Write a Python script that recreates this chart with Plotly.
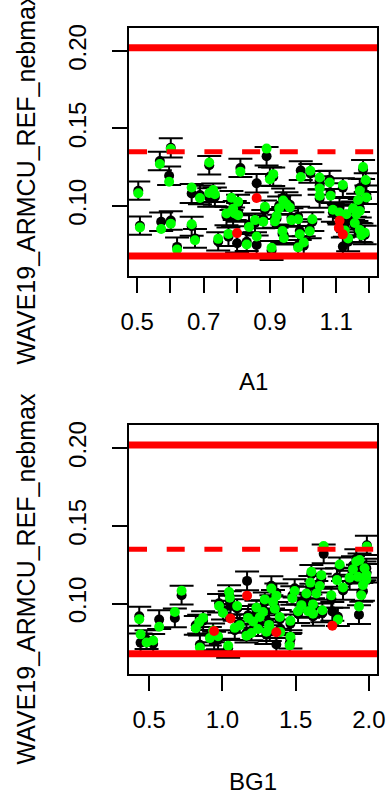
import plotly.graph_objects as go

# ---- data: leave-one-out check of WAVE19_ARMCU_REF_nebmax ----
# runs inside the prediction interval (green)
A1_in = [0.620, 0.905, 0.985, 0.830, 1.002, 0.674, 0.744, 1.136, 0.942, 0.860,
         1.176, 0.775, 0.990, 1.186, 1.020, 0.938, 1.126, 1.171, 0.572, 0.508,
         0.837, 0.664, 0.601, 1.156, 0.880, 0.915, 0.855, 0.965, 0.985, 1.028,
         0.920, 0.804, 1.131, 1.161, 0.769, 0.794, 1.110, 1.171, 1.090, 0.789,
         0.928, 1.151, 0.960, 0.885, 0.950, 0.804, 0.940, 1.166, 0.689, 0.784,
         1.191, 1.050, 1.083, 0.734, 0.503, 0.717, 1.171, 0.729, 1.050, 0.664,
         1.120, 1.080, 0.596, 1.189, 0.900, 1.050, 0.993, 0.910, 0.811, 1.022,
         1.181, 0.568, 0.717, 0.601, 0.890]
BG1_in = [0.846, 1.039, 1.459, 0.482, 0.527, 0.914, 1.464, 0.970, 1.164, 0.441,
          1.198, 1.300, 1.395, 0.936, 1.243, 1.323, 0.818, 1.084, 0.568, 1.118,
          1.318, 0.841, 1.209, 1.464, 1.788, 0.432, 0.868, 1.175, 1.255, 1.391,
          1.618, 1.004, 0.675, 1.277, 1.516, 1.584, 1.682, 1.357, 1.232, 1.932,
          0.977, 1.100, 1.539, 1.618, 1.345, 1.289, 1.477, 1.050, 1.368, 1.743,
          1.948, 1.573, 1.641, 1.045, 1.493, 0.721, 1.334, 1.823, 1.664, 1.959,
          1.600, 1.782, 1.982, 1.868, 1.925, 1.675, 1.982, 1.607, 1.891, 1.970,
          1.800, 1.914, 1.936, 1.986, 1.691]
obs_in = [0.0718, 0.0729, 0.0731, 0.0750, 0.0763, 0.0778, 0.0787, 0.0790, 0.0793, 0.0802,
          0.0811, 0.0819, 0.0817, 0.0827, 0.0836, 0.0838, 0.0841, 0.0844, 0.0851, 0.0860,
          0.0863, 0.0881, 0.0885, 0.0889, 0.0897, 0.0900, 0.0908, 0.0908, 0.0914, 0.0914,
          0.0935, 0.0940, 0.0946, 0.0946, 0.0951, 0.0951, 0.0957, 0.0967, 0.0975, 0.0982,
          0.0984, 0.0984, 0.0990, 0.0994, 0.1011, 0.1027, 0.1035, 0.1038, 0.1051, 0.1053,
          0.1054, 0.1065, 0.1065, 0.1075, 0.1081, 0.1083, 0.1097, 0.1103, 0.1113, 0.1119,
          0.1135, 0.1151, 0.1156, 0.1167, 0.1172, 0.1183, 0.1186, 0.1205, 0.1221, 0.1227,
          0.1251, 0.1271, 0.1280, 0.1367, 0.1370]
pred_in = [0.0735, 0.0712, 0.0745, 0.0768, 0.0742, 0.0790, 0.0770, 0.0768, 0.0810, 0.0748,
           0.0825, 0.0800, 0.0838, 0.0812, 0.0852, 0.0820, 0.0860, 0.0828, 0.0897, 0.0872,
           0.0880, 0.0868, 0.0905, 0.0870, 0.0915, 0.0918, 0.0890, 0.0925, 0.0932, 0.0898,
           0.0918, 0.0958, 0.0908, 0.0962, 0.0935, 0.0970, 0.0940, 0.0985, 0.0958, 0.0929,
           0.1002, 0.0968, 0.1008, 0.0975, 0.1028, 0.1010, 0.1052, 0.1020, 0.1070, 0.1035,
           0.1072, 0.1048, 0.1085, 0.1058, 0.1098, 0.1054, 0.1115, 0.1085, 0.1132, 0.1080,
           0.1118, 0.1168, 0.1195, 0.1150, 0.1190, 0.1165, 0.1228, 0.1188, 0.1245, 0.1210,
           0.1235, 0.1290, 0.1262, 0.1375, 0.1320]
err_in = [0.0060, 0.0061, 0.0059, 0.0060, 0.0062, 0.0060, 0.0059, 0.0061, 0.0060, 0.0060,
          0.0061, 0.0060, 0.0059, 0.0060, 0.0061, 0.0060, 0.0060, 0.0062, 0.0060, 0.0059,
          0.0060, 0.0061, 0.0060, 0.0060, 0.0059, 0.0061, 0.0060, 0.0060, 0.0062, 0.0060,
          0.0060, 0.0061, 0.0060, 0.0059, 0.0060, 0.0061, 0.0060, 0.0060, 0.0061, 0.0060,
          0.0059, 0.0060, 0.0061, 0.0060, 0.0060, 0.0062, 0.0060, 0.0059, 0.0060, 0.0061,
          0.0060, 0.0060, 0.0061, 0.0060, 0.0059, 0.0060, 0.0061, 0.0060, 0.0060, 0.0062,
          0.0060, 0.0059, 0.0060, 0.0061, 0.0060, 0.0060, 0.0061, 0.0060, 0.0059, 0.0060,
          0.0061, 0.0060, 0.0060, 0.0062, 0.0060]

# runs outside the prediction interval (red)
A1_out = [0.860, 0.801, 1.110, 1.108, 1.120]
BG1_out = [1.168, 0.943, 1.055, 1.750, 1.368]
obs_out = [0.1051, 0.0824, 0.0904, 0.0858, 0.0816]
pred_out = [0.1146, 0.0759, 0.0990, 0.0950, 0.0737]
err_out = [0.0060, 0.0060, 0.0061, 0.0060, 0.0059]

target = 0.135
tol_low, tol_high = 0.0677, 0.2021

y_label = "WAVE19_ARMCU_REF_nebmax"
x_labels = ["A1", "BG1"]
x_ticks_A1 = [0.5, 0.6, 0.7, 0.8, 0.9, 1.0, 1.1, 1.2]
x_text_A1 = ["0.5", "", "0.7", "", "0.9", "", "1.1", ""]
x_ticks_BG1 = [0.5, 1.0, 1.5, 2.0]
x_text_BG1 = ["0.5", "1.0", "1.5", "2.0"]
y_ticks = [0.10, 0.15, 0.20]
y_text = ["0.10", "0.15", "0.20"]

# ---- figure ----
W, H = 389, 801
FONT = "Liberation Sans, Arial, Helvetica, sans-serif"
fig = go.Figure()

panels = [
    dict(xa="x", ya="y", xin=A1_in, xout=A1_out),
    dict(xa="x2", ya="y2", xin=BG1_in, xout=BG1_out),
]
for p in panels:
    xall = p["xin"] + p["xout"]
    fig.add_trace(go.Scatter(
        x=xall, y=pred_in + pred_out, mode="markers",
        marker=dict(color="black", size=10, line=dict(width=0)),
        error_y=dict(type="data", array=err_in + err_out, color="black",
                     thickness=2, width=12),
        xaxis=p["xa"], yaxis=p["ya"], showlegend=False, hoverinfo="skip"))
    fig.add_trace(go.Scatter(
        x=p["xin"], y=obs_in, mode="markers",
        marker=dict(color="#00ff00", size=10, line=dict(width=0)),
        xaxis=p["xa"], yaxis=p["ya"], showlegend=False, hoverinfo="skip"))
    fig.add_trace(go.Scatter(
        x=p["xout"], y=obs_out, mode="markers",
        marker=dict(color="#ff0000", size=10, line=dict(width=0)),
        xaxis=p["xa"], yaxis=p["ya"], showlegend=False, hoverinfo="skip"))
    for yv, dash, lw in [(tol_high, "solid", 7), (tol_low, "solid", 7), (target, "18px,19.7px", 5)]:
        fig.add_shape(type="line", xref=p["xa"] + " domain", yref=p["ya"],
                      x0=0, x1=1, y0=yv, y1=yv, layer="above",
                      line=dict(color="#ff0000", width=lw, dash=dash))

x0, x1 = 129 / W, 377 / W
dom_top = [1 - 276 / H, 1 - 28 / H]
dom_bot = [1 - 674 / H, 1 - 425 / H]

common_x = dict(showline=True, mirror=True, linecolor="black", linewidth=2,
                ticks="outside", ticklen=15, tickwidth=2, tickcolor="black",
                showgrid=False, zeroline=False, automargin=False,
                tickfont=dict(family=FONT, size=24, color="black"),
                ticklabelstandoff=8)
common_y = dict(showline=True, mirror=True, linecolor="black", linewidth=2,
                ticks="outside", ticklen=15, tickwidth=2, tickcolor="black",
                showgrid=False, zeroline=False, tickangle=-90, automargin=False,
                tickvals=y_ticks, ticktext=y_text, range=[0.0547, 0.2149],
                tickfont=dict(family=FONT, size=24, color="black"),
                ticklabelstandoff=16)

fig.update_layout(
    width=W, height=H, margin=dict(l=0, r=0, t=0, b=0, autoexpand=False),
    paper_bgcolor="white", plot_bgcolor="white", showlegend=False,
    xaxis=dict(domain=[x0, x1], anchor="y", range=[0.475, 1.223],
               tickvals=x_ticks_A1, ticktext=x_text_A1, **common_x),
    yaxis=dict(domain=dom_top, anchor="x", **common_y),
    xaxis2=dict(domain=[x0, x1], anchor="y2", range=[0.362, 2.055],
                tickvals=x_ticks_BG1, ticktext=x_text_BG1, **common_x),
    yaxis2=dict(domain=dom_bot, anchor="x2", **common_y),
)

# axis titles
for ytop_px, xlab in [(0, x_labels[0]), (400, x_labels[1])]:
    fig.add_annotation(text=xlab, xref="paper", yref="paper",
                       x=253 / W, y=1 - (ytop_px + 381) / H,
                       xanchor="center", yanchor="middle", showarrow=False,
                       font=dict(family=FONT, size=24, color="black"))
    fig.add_annotation(text=y_label, xref="paper", yref="paper", textangle=-90,
                       x=25 / W, y=1 - (ytop_px + 367) / H,
                       xanchor="center", yanchor="bottom", showarrow=False,
                       font=dict(family=FONT, size=25, color="black"))

fig.write_html("out.html", config={"displayModeBar": False},
               post_script="document.body.style.margin='0';document.body.style.overflow='hidden';")
